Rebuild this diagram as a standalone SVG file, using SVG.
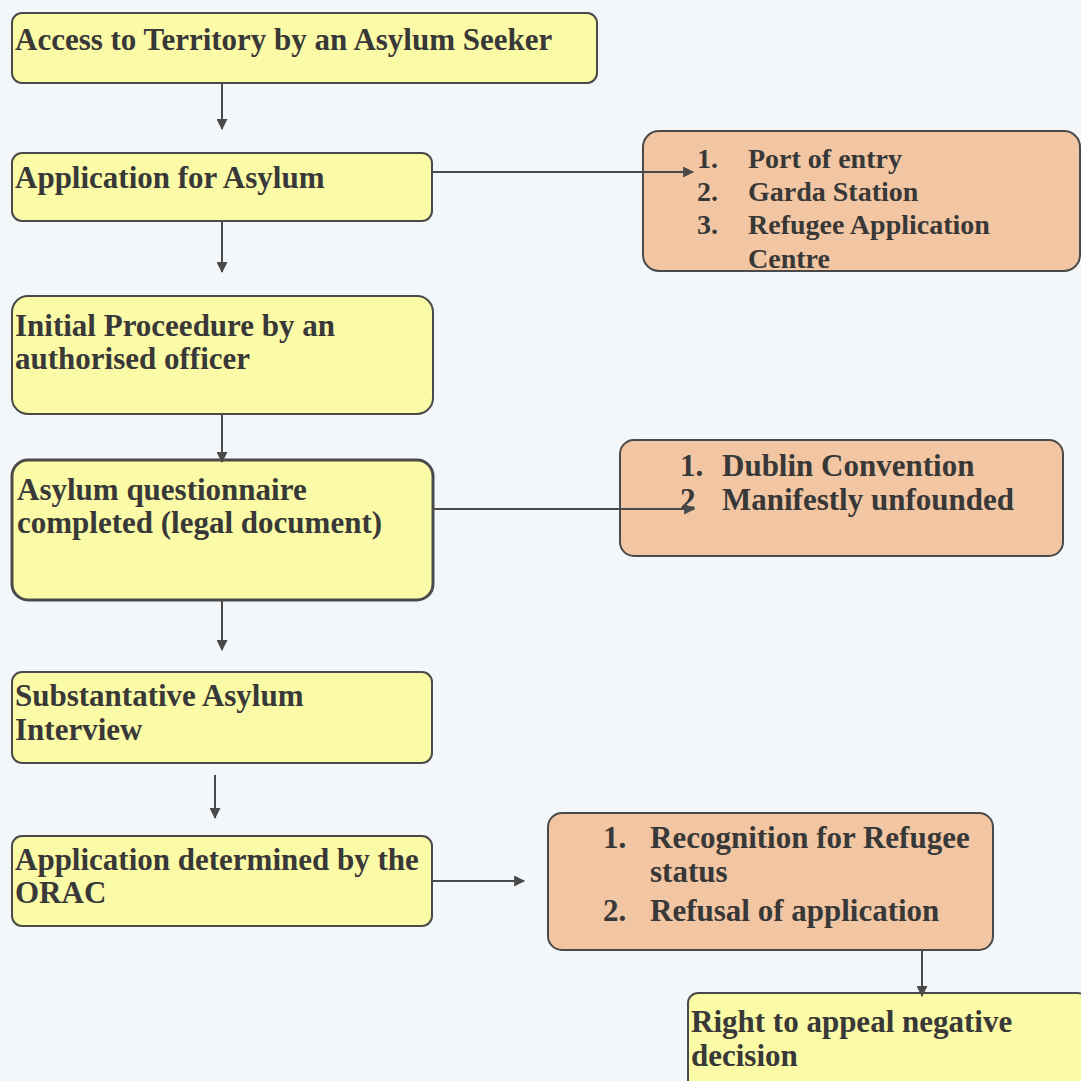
<svg xmlns="http://www.w3.org/2000/svg" width="1081" height="1081" viewBox="0 0 1081 1081">
  <style>
    .bg { fill: #f3f7f9; }
    .step { fill: #fbfaa6; stroke: #4a4a4a; stroke-width: 2; }
    .step.strong { stroke-width: 3; }
    .note { fill: #f2c6a2; stroke: #4a4a4a; stroke-width: 2; }
    .t { font-family: "Liberation Serif", "Times New Roman", serif; font-weight: bold; font-size: 31px; fill: #383838; }
    .t.small { font-size: 28px; }
    .link { stroke: #4a4a4a; stroke-width: 2; fill: none; }
  </style>
  <defs>
    <marker id="arrow" viewBox="0 0 10 10" refX="9" refY="5" markerWidth="12" markerHeight="11" orient="auto" markerUnits="userSpaceOnUse">
      <path d="M0,0 L10,5 L0,10 Z" fill="#4a4a4a"/>
    </marker>
    <clipPath id="clipNote1">
      <rect x="643" y="131" width="437" height="139" rx="16"/>
    </clipPath>
  </defs>

  <rect class="bg" x="0" y="0" width="1081" height="1081"/>

  <g id="access">
    <rect class="step" x="12" y="13" width="585" height="70" rx="10"/>
    <text class="t" x="15" y="50">Access to Territory by an Asylum Seeker</text>
  </g>

  <g id="application">
    <rect class="step" x="12" y="153" width="420" height="68" rx="10"/>
    <text class="t" x="15" y="188">Application for Asylum</text>
  </g>

  <g id="places">
    <rect class="note" x="643" y="131" width="437" height="140" rx="16"/>
    <g clip-path="url(#clipNote1)">
      <text class="t small" x="697" y="168">1.</text>
      <text class="t small" x="748" y="168">Port of entry</text>
      <text class="t small" x="697" y="201">2.</text>
      <text class="t small" x="748" y="201">Garda Station</text>
      <text class="t small" x="697" y="234">3.</text>
      <text class="t small" x="748" y="234">Refugee Application</text>
      <text class="t small" x="748" y="268">Centre</text>
    </g>
  </g>

  <g id="initial">
    <rect class="step" x="12" y="296" width="421" height="118" rx="16"/>
    <text class="t" x="15" y="336">Initial Proceedure by an</text>
    <text class="t" x="15" y="369">authorised officer</text>
  </g>

  <g id="questionnaire">
    <rect class="step strong" x="12" y="460" width="421" height="140" rx="16"/>
    <text class="t" x="17" y="500">Asylum questionnaire</text>
    <text class="t" x="17" y="533">completed (legal document)</text>
  </g>

  <g id="screening">
    <rect class="note" x="620" y="440" width="443" height="116" rx="14"/>
    <text class="t" x="680" y="476">1.</text>
    <text class="t" x="722" y="476">Dublin Convention</text>
    <text class="t" x="680" y="510">2</text>
    <text class="t" x="722" y="510">Manifestly unfounded</text>
  </g>

  <g id="interview">
    <rect class="step" x="12" y="672" width="420" height="91" rx="10"/>
    <text class="t" x="15" y="706">Substantative Asylum</text>
    <text class="t" x="15" y="740">Interview</text>
  </g>

  <g id="determined">
    <rect class="step" x="12" y="836" width="420" height="90" rx="10"/>
    <text class="t" x="15" y="870">Application determined by the</text>
    <text class="t" x="15" y="903">ORAC</text>
  </g>

  <g id="outcome">
    <rect class="note" x="548" y="813" width="445" height="137" rx="14"/>
    <text class="t" x="603" y="848">1.</text>
    <text class="t" x="650" y="848">Recognition for Refugee</text>
    <text class="t" x="650" y="882">status</text>
    <text class="t" x="603" y="921">2.</text>
    <text class="t" x="650" y="921">Refusal of application</text>
  </g>

  <g id="appeal">
    <rect class="step" x="688" y="993" width="400" height="100" rx="10"/>
    <text class="t" x="691" y="1032">Right to appeal negative</text>
    <text class="t" x="691" y="1066">decision</text>
  </g>

  <!-- flow connectors, drawn over the boxes -->
  <g id="connectors">
    <line class="link" x1="222" y1="84" x2="222" y2="129" marker-end="url(#arrow)"/>
    <line class="link" x1="433" y1="172" x2="693" y2="172" marker-end="url(#arrow)"/>
    <line class="link" x1="222" y1="222" x2="222" y2="272" marker-end="url(#arrow)"/>
    <line class="link" x1="222" y1="415" x2="222" y2="462" marker-end="url(#arrow)"/>
    <line class="link" x1="434" y1="509" x2="694" y2="509" marker-end="url(#arrow)"/>
    <line class="link" x1="222" y1="601" x2="222" y2="650" marker-end="url(#arrow)"/>
    <line class="link" x1="215" y1="775" x2="215" y2="818" marker-end="url(#arrow)"/>
    <line class="link" x1="433" y1="881" x2="524" y2="881" marker-end="url(#arrow)"/>
    <line class="link" x1="922" y1="951" x2="922" y2="996" marker-end="url(#arrow)"/>
  </g>
</svg>
